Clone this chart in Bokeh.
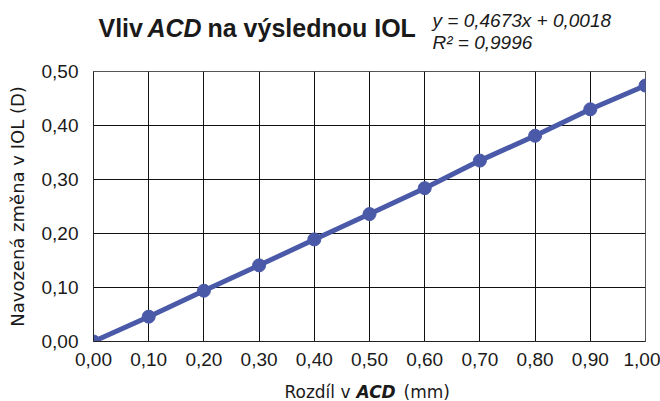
from bokeh.plotting import figure
from bokeh.models import Range1d, FixedTicker
from bokeh.layouts import column
from bokeh.core.properties import value
from bokeh.embed import file_html
from bokeh.resources import INLINE

x_vals = [0.0, 0.1, 0.2, 0.3, 0.4, 0.5, 0.6, 0.7, 0.8, 0.9, 1.0]
y_vals = [0.0, 0.046, 0.094, 0.141, 0.189, 0.236, 0.284, 0.335, 0.381, 0.430, 0.474]
x_ticks = [0.0, 0.1, 0.2, 0.3, 0.4, 0.5, 0.6, 0.7, 0.8, 0.9, 1.0]
x_tick_labels = ["0,00", "0,10", "0,20", "0,30", "0,40", "0,50", "0,60", "0,70", "0,80", "0,90", "1,00"]
y_ticks = [0.0, 0.1, 0.2, 0.3, 0.4, 0.5]
y_tick_labels = ["0,00", "0,10", "0,20", "0,30", "0,40", "0,50"]
title_parts = ["Vliv", "ACD", "na výslednou IOL"]
equation = ["y = 0,4673x + 0,0018", "R² = 0,9996"]
xlabel_parts = ["Rozdíl v", "ACD", "(mm)"]
ylabel = "Navozená změna v IOL (D)"

FONT = "DejaVu Sans"
TFONT = "Liberation Sans"
COLOR = "#4a5aa8"
TXT = "#1a1a1a"
W = 660
FL, FR = 93, 645          # frame left / right in page pixels


def text_fig(top, bottom):
    f = figure(width=W, height=bottom - top, output_backend="svg", toolbar_location=None,
               x_range=Range1d(FL, FR), y_range=Range1d(bottom, top),
               min_border_left=FL, min_border_right=W - FR,
               min_border_top=0, min_border_bottom=0)
    f.axis.visible = False
    f.grid.visible = False
    f.outline_line_color = None
    return f


# ---- title strip (page y 0..55) ----
tf = text_fig(0, 55)
tf.text(x=[98], y=[27], text=[title_parts[0]], text_font=value(TFONT), text_font_size="25px",
        text_font_style="bold", text_color=TXT, text_baseline="middle")
tf.text(x=[147], y=[27], text=[title_parts[1]], text_font=value(TFONT), text_font_size="25px",
        text_font_style="bold italic", text_color=TXT, text_baseline="middle")
tf.text(x=[207], y=[27], text=[title_parts[2]], text_font=value(TFONT), text_font_size="25px",
        text_font_style="bold", text_color=TXT, text_baseline="middle")
tf.text(x=[432, 432], y=[19.5, 41.5], text=equation, text_font=value(TFONT), text_font_size="19px",
        text_font_style="italic", text_color=TXT, text_baseline="middle")

# ---- main chart (page y 55..375) ----
p = figure(width=W, height=320, output_backend="svg", toolbar_location=None,
           x_range=Range1d(0, 1), y_range=Range1d(0, 0.5),
           min_border_left=FL, min_border_right=W - FR, min_border_top=16, min_border_bottom=34)
p.outline_line_color = "#555555"

for ax, ticks, labs in ((p.xaxis[0], x_ticks, x_tick_labels), (p.yaxis[0], y_ticks, y_tick_labels)):
    ax.ticker = FixedTicker(ticks=ticks)
    ax.major_label_overrides = {t: l for t, l in zip(ticks, labs)}
    ax.major_tick_out = 0
    ax.major_tick_in = 0
    ax.minor_tick_out = 0
    ax.minor_tick_in = 0
    ax.axis_line_color = "#222222"
    ax.major_label_text_font = TFONT
    ax.major_label_text_font_size = "19px"
    ax.major_label_text_color = TXT

p.xaxis.major_label_standoff = 11
p.yaxis.major_label_standoff = 15
p.yaxis.axis_label = ylabel
p.yaxis.axis_label_text_font = FONT
p.yaxis.axis_label_text_font_size = "18px"
p.yaxis.axis_label_text_font_style = "normal"
p.yaxis.axis_label_text_color = TXT
p.yaxis.axis_label_standoff = 11

p.xgrid.grid_line_color = "#111111"
p.ygrid.grid_line_color = "#111111"
p.xgrid.ticker = FixedTicker(ticks=x_ticks)
p.ygrid.ticker = FixedTicker(ticks=y_ticks)

p.line(x_vals, y_vals, line_color=COLOR, line_width=5)
p.scatter(x_vals, y_vals, size=13, fill_color=COLOR, line_color=COLOR)

# ---- x axis label strip (page y 375..401) ----
xf = text_fig(375, 401)
xf.text(x=[350], y=[391], text=[xlabel_parts[0]], text_font=value(FONT), text_font_size="17px",
        text_color=TXT, text_baseline="middle", text_align="right")
xf.text(x=[356], y=[391], text=[xlabel_parts[1]], text_font=value(FONT), text_font_size="17px",
        text_font_style="bold italic", text_color=TXT, text_baseline="middle")
xf.text(x=[403], y=[391], text=[xlabel_parts[2]], text_font=value(FONT), text_font_size="17px",
        text_color=TXT, text_baseline="middle")

layout = column(tf, p, xf, spacing=0)
open("out.html", "w").write(file_html(layout, INLINE))
